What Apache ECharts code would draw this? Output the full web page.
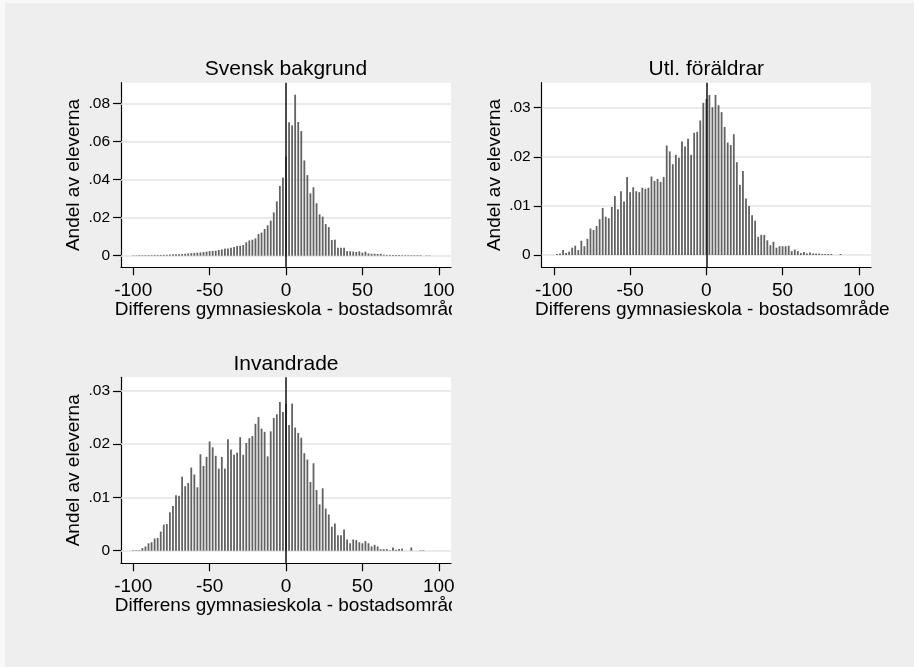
<!DOCTYPE html>
<html>
<head>
<meta charset="utf-8">
<script src="https://cdn.jsdelivr.net/npm/echarts@6/dist/echarts.min.js"></script>
<style>
  html, body { margin: 0; padding: 0; background: #eeeeee; }
  #chart { width: 914px; height: 667px; }
</style>
</head>
<body>
<div id="chart"></div>
<script>
// bin centres (width 2), shared by all three panels
const bins = [
  -100, -98, -96, -94, -92, -90, -88, -86, -84, -82,
  -80, -78, -76, -74, -72, -70, -68, -66, -64, -62,
  -60, -58, -56, -54, -52, -50, -48, -46, -44, -42,
  -40, -38, -36, -34, -32, -30, -28, -26, -24, -22,
  -20, -18, -16, -14, -12, -10, -8, -6, -4, -2,
  0, 2, 4, 6, 8, 10, 12, 14, 16, 18,
  20, 22, 24, 26, 28, 30, 32, 34, 36, 38,
  40, 42, 44, 46, 48, 50, 52, 54, 56, 58,
  60, 62, 64, 66, 68, 70, 72, 74, 76, 78,
  80, 82, 84, 86, 88, 90, 92, 94
]

const svensk = [
  .0002, .0002, .0003, .0003, .0003, .0003, .0003, .0004, .0004, .0004,
  .0005, .0005, .0006, .0007, .0007, .0008, .0009, .0010, .0012, .0013,
  .0014, .0016, .0017, .0019, .0021, .0024, .0025, .0026, .0030, .0033,
  .0037, .0038, .0042, .0045, .0051, .0052, .0056, .0070, .0080, .0084,
  .0091, .0114, .0121, .0140, .0159, .0184, .0227, .0285, .0366, .0411,
  .0520, .0700, .0684, .0845, .0702, .0654, .0500, .0423, .0327, .0359,
  .0275, .0217, .0205, .0166, .0150, .0082, .0084, .0042, .0042, .0042,
  .0024, .0023, .0021, .0019, .0023, .0016, .0021, .0012, .0010, .0010,
  .0009, .0010, .0005, .0004, .0004, .0004, .0003, .0003, .0003, .0003,
  .0003, .0003, .0003, .0003, .0003, 0, .0002, .0002
]

const utlForaldrar = [
  0, .0002, .0003, .0010, .0004, .0007, .0015, .0019, .0010, .0029,
  .0018, .0033, .0054, .0051, .0059, .0073, .0096, .0078, .0075, .0098,
  .0120, .0093, .0130, .0109, .0159, .0128, .0138, .0130, .0128, .0137,
  .0135, .0137, .0160, .0151, .0155, .0149, .0159, .0223, .0211, .0185,
  .0204, .0198, .0231, .0221, .0237, .0204, .0249, .0251, .0274, .0310,
  .0318, .0326, .0301, .0326, .0305, .0291, .0261, .0229, .0224, .0246,
  .0189, .0143, .0171, .0115, .0100, .0081, .0070, .0037, .0041, .0041,
  .0030, .0020, .0027, .0015, .0018, .0018, .0018, .0019, .0008, .0011,
  .0008, .0004, .0006, .0003, .0005, .0003, .0003, .0003, .0002, .0002,
  .0002, .0002, 0, 0, .0002, 0, 0, 0
]

const invandrade = [
  .0001, .0001, .0001, .0005, .0008, .0014, .0016, .0023, .0024, .0036,
  .0049, .0050, .0072, .0084, .0104, .0103, .0139, .0121, .0127, .0156,
  .0143, .0119, .0181, .0159, .0176, .0205, .0194, .0178, .0154, .0176,
  .0154, .0209, .0190, .0180, .0184, .0213, .0180, .0202, .0211, .0215,
  .0238, .0251, .0229, .0223, .0177, .0224, .0249, .0256, .0279, .0260,
  .0275, .0236, .0276, .0231, .0221, .0212, .0183, .0171, .0129, .0164,
  .0114, .0087, .0117, .0079, .0068, .0045, .0051, .0029, .0029, .0040,
  .0021, .0014, .0021, .0020, .0016, .0014, .0018, .0014, .0008, .0011,
  .0008, .0003, .0003, .0003, .0001, .0006, .0002, .0003, .0004, 0,
  0, .0006, 0, 0, .0001, .0001, 0, 0
]

const xTicks = [-100, -50, 0, 50, 100]
const yTicksSvensk = [0, 0.02, 0.04, 0.06, 0.08]
const yTicksUtl = [0, 0.01, 0.02, 0.03]
const yTicksInv = [0, 0.01, 0.02, 0.03]

const panelTitles = ['Svensk bakgrund', 'Utl. föräldrar', 'Invandrade']
const yTitle = 'Andel av eleverna'
const xTitle = 'Differens gymnasieskola - bostadsområde'

const font = '"Liberation Sans", Arial, Helvetica, sans-serif'

// plot regions in pixels, y range as Stata drew it
const panels = [
  { left: 121, top: 82.7, width: 330, height: 184.6, vals: svensk, yt: yTicksSvensk, ymin: -0.0061, ymax: 0.0908 },
  { left: 541.7, top: 82.7, width: 329.3, height: 184.6, vals: utlForaldrar, yt: yTicksUtl, ymin: -0.0025, ymax: 0.0351 },
  { left: 121, top: 377.3, width: 330, height: 186, vals: invandrade, yt: yTicksInv, ymin: -0.00236, ymax: 0.03253 },
]

const fmtY = (v) => (v === 0 ? '0' : String(v).replace(/^0\./, '.'))

const grids = panels.map(p => ({
  left: p.left, top: p.top, width: p.width, height: p.height,
  show: true, backgroundColor: '#ffffff', borderWidth: 0,
  outerBoundsMode: 'none',
}))

const xAxes = panels.map((p, i) => ({
  gridIndex: i,
  type: 'value',
  min: -108,
  max: 108,
  axisLine: { show: true, onZero: false, lineStyle: { color: '#000', width: 1.2 } },
  axisTick: { show: true, length: 8, customValues: xTicks, lineStyle: { color: '#000', width: 1.2 } },
  axisLabel: { customValues: xTicks, fontSize: 19, color: '#000', margin: 14, fontFamily: font },
  splitLine: { show: false },
}))

const yAxes = panels.map((p, i) => ({
  gridIndex: i,
  type: 'value',
  min: p.ymin,
  max: p.ymax,
  axisLine: { show: true, onZero: false, lineStyle: { color: '#000', width: 1.2 } },
  axisTick: { show: true, length: 8, customValues: p.yt, lineStyle: { color: '#000', width: 1.2 } },
  axisLabel: { customValues: p.yt, formatter: fmtY, fontSize: 15.5, color: '#000', margin: 11, fontFamily: font },
  splitLine: { show: false },
}))

const series = []
panels.forEach((p, i) => {
  // light grid lines at the y ticks, under the bars
  series.push({
    type: 'line',
    xAxisIndex: i,
    yAxisIndex: i,
    data: [],
    z: 1,
    silent: true,
    markLine: {
      z: 1,
      silent: true,
      symbol: 'none',
      label: { show: false },
      lineStyle: { color: '#e4e4e4', width: 1.5, type: 'solid' },
      data: p.yt.map(v => ({ yAxis: v })),
    },
  })
  series.push({
    type: 'bar',
    xAxisIndex: i,
    yAxisIndex: i,
    z: 3,
    barWidth: 1.8,
    itemStyle: { color: '#626262' },
    data: bins.map((b, k) => [b, p.vals[k]]),
    markLine: {
      z: 6,
      silent: true,
      symbol: 'none',
      label: { show: false },
      lineStyle: { color: '#111', width: 1.5, type: 'solid' },
      data: [{ xAxis: 0 }],
    },
  })
})

// thin lighter margin at the top and left edge of the image
const graphics = [
  { type: 'rect', z: -1, shape: { x: 5, y: 3, width: 909, height: 664 }, style: { fill: '#eeeeee' } },
]
panels.forEach((p, i) => {
  const cx = p.left + p.width / 2
  const cy = p.top + p.height / 2
  graphics.push({
    type: 'text', x: cx, y: p.top - 13, z: 10,
    style: { text: panelTitles[i], font: '21px ' + font, fill: '#000', align: 'center', verticalAlign: 'middle' },
  })
  graphics.push({
    type: 'text', x: p.left - 47, y: cy, rotation: Math.PI / 2, z: 10,
    style: { text: yTitle, font: '19px ' + font, fill: '#000', align: 'center', verticalAlign: 'middle' },
  })
  graphics.push({
    type: 'text', x: cx + 6, y: p.top + p.height + 42, z: 10,
    style: { text: xTitle, font: '19px ' + font, fill: '#000', align: 'center', verticalAlign: 'middle' },
  })
  // left-column panels: axis title is clipped at the panel edge
  if (p.left < 300) {
    graphics.push({
      type: 'rect', z: 11,
      shape: { x: p.left + p.width + 1, y: p.top + p.height + 28, width: 40, height: 28 },
      style: { fill: '#eeeeee' },
    })
  }
})

const chart = echarts.init(document.getElementById('chart'), null, { renderer: 'canvas' })
chart.setOption({
  backgroundColor: '#f8f8f8',
  animation: false,
  grid: grids,
  xAxis: xAxes,
  yAxis: yAxes,
  series: series,
  graphic: graphics,
})
</script>
</body>
</html>
